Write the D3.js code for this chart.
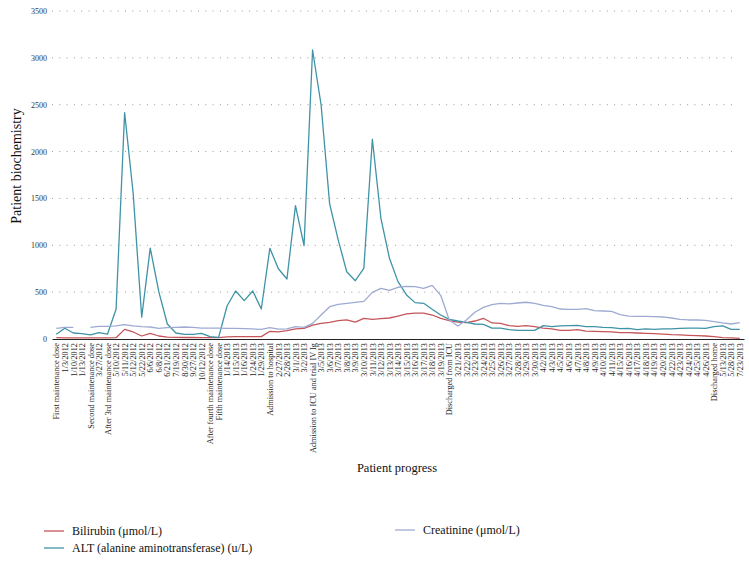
<!DOCTYPE html>
<html>
<head>
<meta charset="utf-8">
<script src="https://cdn.jsdelivr.net/npm/d3@7"></script>
<style>
  body { margin: 0; background: #fff; }
  svg { font-family: "Liberation Serif", "DejaVu Serif", serif; }
</style>
</head>
<body>
<svg id="chart" width="749" height="562"></svg>
<script>
// categories along the x axis (patient progress)
const categories = [
  "First maintenance dose", "1/3/2012", "1/10/2012", "1/13/2012", "Second maintenance dose",
  "3/27/2012", "After 3rd maintenance dose", "5/10/2012", "5/11/2012", "5/12/2012",
  "5/22/2012", "6/6/2012", "6/8/2012", "6/21/2012", "7/19/2012", "8/30/2012", "9/27/2012",
  "10/12/2012", "After fourth maintenance dose", "Fifth maintenance dose", "1/14/2013",
  "1/15/2013", "1/16/2013", "1/24/2013", "1/29/2013", "Admission to hospital", "2/27/2013",
  "2/28/2013", "3/1/2013", "3/2/2013", "Admission to ICU and trial IV Ig", "3/5/2013",
  "3/6/2013", "3/7/2013", "3/8/2013", "3/9/2013", "3/10/2013", "3/11/2013", "3/12/2013",
  "3/13/2013", "3/14/2013", "3/15/2013", "3/16/2013", "3/17/2013", "3/18/2013", "3/19/2013",
  "Discharged from ICU", "3/21/2013", "3/22/2013", "3/23/2013", "3/24/2013", "3/25/2013",
  "3/26/2013", "3/27/2013", "3/28/2013", "3/29/2013", "3/30/2013", "4/2/2013", "4/3/2013",
  "4/5/2013", "4/6/2013", "4/7/2013", "4/8/2013", "4/9/2013", "4/10/2013", "4/11/2013",
  "4/15/2013", "4/16/2013", "4/17/2013", "4/18/2013", "4/19/2013", "4/20/2013", "4/22/2013",
  "4/23/2013", "4/24/2013", "4/25/2013", "4/26/2013", "Discharged home", "5/13/2013",
  "5/28/2013", "7/23/2013"
];

const bilirubin = [
  14, 12, 13, 12, 12, 11, 12, 14, 103, 75, 32, 60, 32, 21, 18, 16, 16, 15, 14, 15,
  22, 25, 25, 25, 25, 82, 75, 89, 107, 114, 149, 167, 178, 196, 203, 181, 221, 210, 217, 224,
  245, 267, 277, 277, 256, 221, 196, 181, 174, 192, 221, 171, 167, 142, 135, 142, 132, 117, 107, 92,
  92, 100, 85, 82, 78, 75, 68, 68, 64, 60, 57, 53, 46, 43, 39, 36, 32, 25, 14, 11, 7
];

const alt = [
  50, 115, 64, 57, 43, 67, 53, 317, 2415, 1555, 233, 970, 505, 160, 64, 50, 50, 60, 25, 18,
  355, 512, 409, 512, 320, 968, 750, 640, 1423, 996, 3084, 2497, 1441, 1057, 718, 622, 754, 2131, 1288, 861,
  612, 470, 388, 381, 317, 256, 210, 192, 178, 160, 157, 117, 115, 100, 93, 93, 92, 142, 132, 139,
  142, 146, 132, 132, 125, 121, 110, 114, 100, 107, 103, 107, 107, 114, 117, 117, 114, 132, 139, 103, 103
];

const creatinine = [
  114, 124, 124, null, 124, 135, 135, 139, 153, 139, 131, 128, 114, 121, 124, 128, 124, 117, 117, 117,
  114, 114, 110, 107, 103, 121, 105, 107, 131, 124, 167, 256, 345, 370, 381, 391, 402, 498, 541, 520,
  552, 562, 559, 541, 573, 466, 203, 139, 203, 285, 338, 366, 381, 374, 384, 392, 381, 359, 345, 320,
  317, 317, 324, 302, 299, 295, 260, 245, 242, 242, 238, 235, 224, 210, 203, 203, 199, 185, 171, 160, 174
];

const yTicks = [0, 500, 1000, 1500, 2000, 2500, 3000, 3500];

const series = [
  { name: "Bilirubin (\u03bcmol/L)", values: bilirubin, color: "#c4565a" },
  { name: "ALT (alanine aminotransferase) (u/L)", values: alt, color: "#3f93a6" },
  { name: "Creatinine (\u03bcmol/L)", values: creatinine, color: "#9eaad2" }
];

const svg = d3.select("#chart");

const x = d3.scalePoint().domain(d3.range(categories.length)).range([52, 744]).padding(0.5);
const y = d3.scaleLinear().domain([0, 3500]).range([339, 11]);

// dotted grid
svg.append("g").selectAll("line").data(yTicks.filter(d => d > 0)).join("line")
  .attr("x1", 52).attr("x2", 738)
  .attr("y1", d => y(d)).attr("y2", d => y(d))
  .attr("stroke", "#9a9a9a").attr("stroke-width", 1)
  .attr("stroke-dasharray", "1,6.3");

// y axis labels
const yAxis = svg.append("g").attr("transform", "translate(52,0)")
  .call(d3.axisLeft(y).tickValues(yTicks).tickFormat(d3.format("d")).tickSize(0).tickPadding(5));
yAxis.select(".domain").remove();
yAxis.selectAll("text").attr("font-family", "Liberation Serif").attr("font-size", 8).attr("fill", "#333");

// lines
const line = d3.line()
  .defined(d => d != null)
  .x((d, i) => x(i))
  .y(d => y(d));

series.forEach(s => {
  svg.append("path").datum(s.values)
    .attr("fill", "none").attr("stroke", s.color).attr("stroke-width", 1.3)
    .attr("stroke-linejoin", "round")
    .attr("d", line);
});

// x axis
const xAxis = svg.append("g").attr("transform", "translate(0,339)")
  .call(d3.axisBottom(x).tickSize(0).tickFormat(i => categories[i]));
xAxis.select(".domain").attr("stroke", "#222").attr("stroke-width", 1.2);
xAxis.selectAll("text")
  .attr("font-family", "Liberation Serif").attr("font-size", 8.3).attr("fill", "#222")
  .attr("text-anchor", "end")
  .attr("transform", "rotate(-90)")
  .attr("x", -4).attr("y", 0).attr("dy", "0.32em");

// axis titles
svg.append("text")
  .attr("transform", "translate(21,166) rotate(-90)")
  .attr("text-anchor", "middle").attr("font-size", 14).attr("fill", "#111")
  .text("Patient biochemistry");

svg.append("text")
  .attr("x", 397).attr("y", 472)
  .attr("text-anchor", "middle").attr("font-size", 12.5).attr("fill", "#111")
  .text("Patient progress");

// legend
const legendPos = [
  { x: 44, y: 531 },
  { x: 44, y: 548 },
  { x: 395, y: 530 }
];
series.forEach((s, i) => {
  const p = legendPos[i];
  svg.append("line")
    .attr("x1", p.x).attr("x2", p.x + 20).attr("y1", p.y).attr("y2", p.y)
    .attr("stroke", s.color).attr("stroke-width", 1.3);
  svg.append("text")
    .attr("x", p.x + 28).attr("y", p.y).attr("dy", "0.35em")
    .attr("font-size", 12).attr("fill", "#111")
    .text(s.name);
});
</script>
</body>
</html>
